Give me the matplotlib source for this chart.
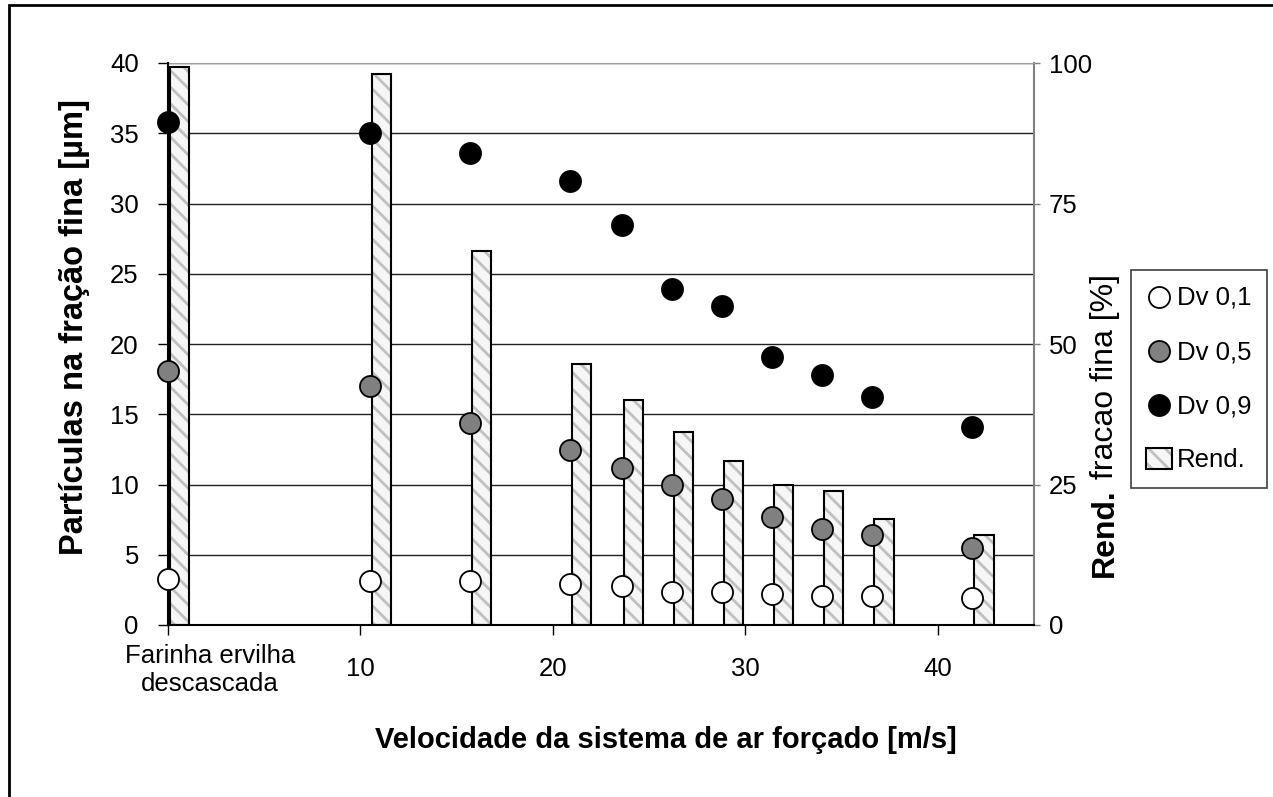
import numpy as np
import matplotlib
matplotlib.use("Agg")
import matplotlib.pyplot as plt
from matplotlib.patches import Rectangle
from matplotlib.ticker import MultipleLocator

plt.rcParams['font.family'] = ['Liberation Sans', 'DejaVu Sans']
plt.rcParams['hatch.linewidth'] = 2.0

# data
velocidade = np.array([0, 10.5, 15.7, 20.9, 23.6, 26.2, 28.8, 31.4, 34.0, 36.6, 41.8])
dv01 = [3.25, 3.1, 3.1, 2.9, 2.8, 2.35, 2.35, 2.2, 2.05, 2.05, 1.9]
dv05 = [18.1, 17.0, 14.4, 12.45, 11.2, 10.0, 9.0, 7.7, 6.8, 6.4, 5.5]
dv09 = [35.8, 35.0, 33.6, 31.6, 28.5, 23.9, 22.7, 19.1, 17.8, 16.2, 14.1]
rend = [99.3, 98.0, 66.6, 46.4, 40.0, 34.3, 29.2, 24.9, 23.8, 18.9, 16.0]

xticks = [0, 10, 20, 30, 40]
xticklabels = ['', '10', '20', '30', '40']
first_label = 'Farinha ervilha\ndescascada'

W, H = 1273, 797
fig = plt.figure(figsize=(W / 100, H / 100), dpi=100)

# outer frame (cut off at right/bottom like the reference)
fig.add_artist(Rectangle((9 / W, -0.1), 1.2, 1 - 5 / H + 0.1, transform=fig.transFigure,
                         fill=False, edgecolor='black', linewidth=2))

ax = fig.add_axes([168 / W, 1 - 625 / H, (1034 - 168) / W, (625 - 63) / H])
ax2 = ax.twinx()

# bars live on the right axis, behind the points
ax.set_zorder(2)
ax2.set_zorder(1)
ax.patch.set_visible(False)
ax2.patch.set_facecolor('#FFFFCC')

ax.set_xlim(0, 45)
ax.set_ylim(0, 40)
ax2.set_ylim(0, 100)

# grid on the bar axis so bars cover it (every 5 units of left scale)
ax2.set_yticks([0, 25, 50, 75, 100])
ax2.yaxis.set_minor_locator(MultipleLocator(12.5))
ax2.set_axisbelow(True)
ax2.grid(True, which='both', axis='y', color='#202020', linewidth=1.0)
ax2.tick_params(axis='y', which='minor', length=0)
ax2.tick_params(axis='y', which='major', direction='out', length=4.5, width=1,
                pad=6, labelsize=18.5, color='#808080')

bars_h = ax2.bar(velocidade + 0.1, rend, width=1.0, align='edge', color='#f6f6f6',
                 edgecolor='#c0c0c0', hatch='\\\\', linewidth=0, zorder=2)
bars_o = ax2.bar(velocidade + 0.1, rend, width=1.0, align='edge', fill=False,
                 edgecolor='black', linewidth=1.5, zorder=3)

s1 = ax.scatter(velocidade, dv01, s=230, facecolor='white', edgecolor='black', linewidth=1.3, zorder=4, clip_on=False)
s5 = ax.scatter(velocidade, dv05, s=230, facecolor='#808080', edgecolor='black', linewidth=1.3, zorder=4, clip_on=False)
s9 = ax.scatter(velocidade, dv09, s=230, facecolor='black', edgecolor='black', linewidth=1.3, zorder=4, clip_on=False)

ax.set_yticks(range(0, 41, 5))
ax.tick_params(axis='y', direction='out', length=7, width=1, pad=14, labelsize=18.5)
ax.set_xticks(xticks)
ax.set_xticklabels(xticklabels, fontsize=18.5, va='center')
ax.tick_params(axis='x', direction='out', length=7, width=1, pad=25)

for side in ['top', 'right']:
    ax.spines[side].set_visible(False)
for side in ['left', 'bottom']:
    ax2.spines[side].set_visible(False)
    ax.spines[side].set_linewidth(1.5)
ax2.spines['top'].set_color('#a0a0a0')
ax2.spines['right'].set_color('#808080')
ax2.spines['right'].set_linewidth(1.5)

ax.annotate(first_label, xy=(0, 0), xycoords=('data', 'axes fraction'),
            xytext=(30, -32.4), textcoords='offset points', ha='center', va='center',
            multialignment='center', fontsize=18.5)

ax.set_xlabel('Velocidade da sistema de ar forçado [m/s]', fontsize=21, fontweight='bold', va='center')
ax.xaxis.set_label_coords(0.575, -0.2046)
ax.set_ylabel('Partículas na fração fina [µm]', fontsize=23.5, fontweight='bold', va='center')
ax.yaxis.set_label_coords(-0.108, 0.53)

t1 = ax2.text(1.082, (625 - 577) / 562, 'Rend.', transform=ax2.transAxes, rotation=90,
              ha='center', va='bottom', fontsize=23, fontweight='bold')
ax2.annotate(' fracao fina [%]', xy=(0.5, 1), xycoords=t1, rotation=90,
             ha='center', va='bottom', fontsize=23)

leg = fig.legend([s1, s5, s9, (bars_h, bars_o)], ['Dv 0,1', 'Dv 0,5', 'Dv 0,9', 'Rend.'],
                 loc='upper left', bbox_to_anchor=(1131 / W, 1 - 270 / H), borderaxespad=0,
                 fontsize=18.5, frameon=True, fancybox=False, edgecolor='#404040',
                 framealpha=1, scatterpoints=1, handlelength=1.0, handleheight=0.9,
                 handletextpad=0.2, labelspacing=1.15, borderpad=0.6)
leg.get_frame().set_linewidth(1.2)

fig.savefig('out.png', dpi=100)
